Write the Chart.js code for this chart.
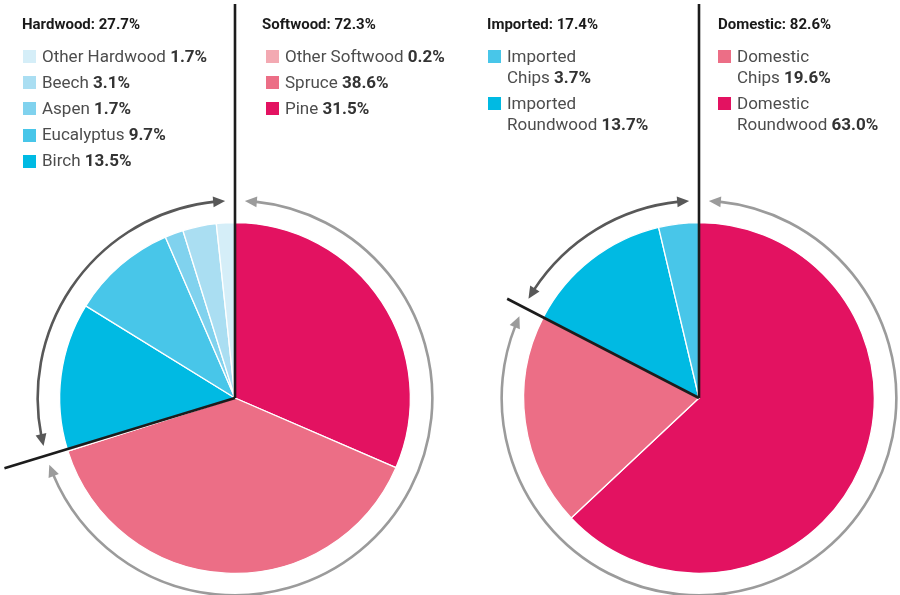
<!DOCTYPE html>
<html>
<head>
<meta charset="utf-8">
<script src="https://cdn.jsdelivr.net/npm/chart.js@4.4.0/dist/chart.umd.min.js"></script>
<style>
  html, body { margin:0; padding:0; background:#fff; }
  #wrap { position:relative; width:900px; height:595px; overflow:hidden; font-family:Roboto, "Liberation Sans", sans-serif; }
  canvas { position:absolute; top:0; }
  .title { position:absolute; font-weight:700; font-size:15px; line-height:18px; color:#1a1a1a; white-space:nowrap; }
  .item { position:absolute; font-size:17px; line-height:21px; color:#4d4d4d; white-space:nowrap; }
  .item b { font-weight:700; color:#333; }
  .sw { position:absolute; width:13px; height:13px; }
</style>
</head>
<body>
<div id="wrap">
  <canvas id="left" width="450" height="595" style="left:0"></canvas>
  <canvas id="right" width="450" height="595" style="left:450px"></canvas>
</div>
<script>
// ---- data ----
const woodLabels  = ['Pine', 'Spruce', 'Other Softwood', 'Birch', 'Eucalyptus', 'Aspen', 'Beech', 'Other Hardwood'];
const woodValues  = [31.5, 38.6, 0.2, 13.5, 9.7, 1.7, 3.1, 1.7];
const woodColors  = ['#E31261', '#EC6E86', '#F3A9B2', '#00BAE3', '#48C6E9', '#80D2EE', '#AADEF2', '#D5EEF8'];
const softwoodIdx = [0, 1, 2];
const hardwoodIdx = [3, 4, 5, 6, 7];
const softwoodTotal = '72.3%';
const hardwoodTotal = '27.7%';

const originLabels = ['Domestic Roundwood', 'Domestic Chips', 'Imported Roundwood', 'Imported Chips'];
const originValues = [63.0, 19.6, 13.7, 3.7];
const originColors = ['#E31261', '#EC6E86', '#00BAE3', '#48C6E9'];
const domesticIdx = [0, 1];
const importedIdx = [2, 3];
const domesticTotal = '82.6%';
const importedTotal = '17.4%';

// ---- overlay plugin: divider lines and arrow rings ----
function arrowHead(ctx, cx, cy, R, a, dir, color) {
  const L = 12, W = 5.5;
  const tip = [cx + R * Math.cos(a), cy + R * Math.sin(a)];
  const ab = a - dir * (L / R);
  const base = [cx + R * Math.cos(ab), cy + R * Math.sin(ab)];
  const dx = tip[0] - base[0], dy = tip[1] - base[1];
  const len = Math.hypot(dx, dy);
  const nx = -dy / len, ny = dx / len;
  ctx.beginPath();
  ctx.moveTo(tip[0], tip[1]);
  ctx.lineTo(base[0] + nx * W, base[1] + ny * W);
  ctx.lineTo(base[0] - nx * W, base[1] - ny * W);
  ctx.closePath();
  ctx.fillStyle = color;
  ctx.fill();
}
function arrowArc(ctx, cx, cy, R, a1, a2, color) {
  const d = 10 / R;
  ctx.beginPath();
  ctx.arc(cx, cy, R, a1 + d, a2 - d);
  ctx.strokeStyle = color;
  ctx.lineWidth = 2.6;
  ctx.stroke();
  arrowHead(ctx, cx, cy, R, a2, 1, color);
  arrowHead(ctx, cx, cy, R, a1, -1, color);
}
const overlay = {
  id: 'overlay',
  afterDatasetsDraw(chart, args, o) {
    const ctx = chart.ctx;
    const arcs = chart.getDatasetMeta(0).data;
    const cx = arcs[0].x, cy = arcs[0].y;
    const R = arcs[0].outerRadius + 22;
    const gap = 0.05;
    ctx.save();
    o.rings.forEach(g => {
      const a1 = arcs[g.idx[0]].startAngle, a2 = arcs[g.idx[g.idx.length - 1]].endAngle;
      arrowArc(ctx, cx, cy, R, a1 + gap, a2 - gap, g.color);
    });
    ctx.strokeStyle = '#1c1c1c';
    ctx.lineWidth = 2.6;
    ctx.lineCap = 'butt';
    ctx.beginPath();
    ctx.moveTo(cx, cy);
    ctx.lineTo(cx, o.topY);
    ctx.stroke();
    const a = arcs[o.splitIdx].startAngle;
    ctx.beginPath();
    ctx.moveTo(cx, cy);
    ctx.lineTo(cx + o.splitLen * Math.cos(a), cy + o.splitLen * Math.sin(a));
    ctx.stroke();
    ctx.restore();
  }
};

function makePie(id, labels, values, colors, padding, overlayOpts) {
  return new Chart(document.getElementById(id), {
    type: 'pie',
    data: { labels, datasets: [{ data: values, backgroundColor: colors, borderColor: '#ffffff', borderWidth: 1.3 }] },
    options: {
      responsive: false, animation: false,
      layout: { padding },
      plugins: { legend: { display: false }, tooltip: { enabled: false }, overlay: overlayOpts }
    },
    plugins: [overlay]
  });
}

makePie('left', woodLabels, woodValues, woodColors,
  { left: 59, right: 39, top: 222, bottom: 21 },
  { rings: [{ idx: softwoodIdx, color: '#9b9b9b' }, { idx: hardwoodIdx, color: '#585858' }], splitIdx: 3, splitLen: 241, topY: 4 });
makePie('right', originLabels, originValues, originColors,
  { left: 73, right: 25, top: 222, bottom: 21 },
  { rings: [{ idx: domesticIdx, color: '#9b9b9b' }, { idx: importedIdx, color: '#585858' }], splitIdx: 2, splitLen: 216, topY: 4 });

// ---- legends ----
const wrap = document.getElementById('wrap');
function addTitle(text, x, yc) {
  const d = document.createElement('div');
  d.className = 'title'; d.textContent = text;
  d.style.left = x + 'px'; d.style.top = (yc - 9) + 'px';
  wrap.appendChild(d);
}
function addLegend(labels, values, colors, idx, x, yStart, step, twoLine) {
  const order = idx.slice().reverse();
  order.forEach((i, k) => {
    const yc = yStart + k * step;
    const sw = document.createElement('div');
    sw.className = 'sw'; sw.style.background = colors[i];
    sw.style.left = x + 'px'; sw.style.top = (yc - 6) + 'px';
    wrap.appendChild(sw);
    const t = document.createElement('div');
    t.className = 'item';
    let name = labels[i];
    if (twoLine) { const p = name.indexOf(' '); name = name.slice(0, p) + '<br>' + name.slice(p + 1); }
    t.innerHTML = name + ' <b>' + values[i].toFixed(1) + '%</b>';
    t.style.left = (x + 19) + 'px'; t.style.top = (yc - 10.5) + 'px';
    wrap.appendChild(t);
  });
}
addTitle('Hardwood: ' + hardwoodTotal, 22, 24);
addLegend(woodLabels, woodValues, woodColors, hardwoodIdx, 23, 56, 26.2, false);
addTitle('Softwood: ' + softwoodTotal, 262, 24);
addLegend(woodLabels, woodValues, woodColors, softwoodIdx, 266, 56, 26.2, false);
addTitle('Imported: ' + importedTotal, 487, 24);
addLegend(originLabels, originValues, originColors, importedIdx, 488, 56, 47, true);
addTitle('Domestic: ' + domesticTotal, 718, 24);
addLegend(originLabels, originValues, originColors, domesticIdx, 718, 56, 47, true);
</script>
</body>
</html>
